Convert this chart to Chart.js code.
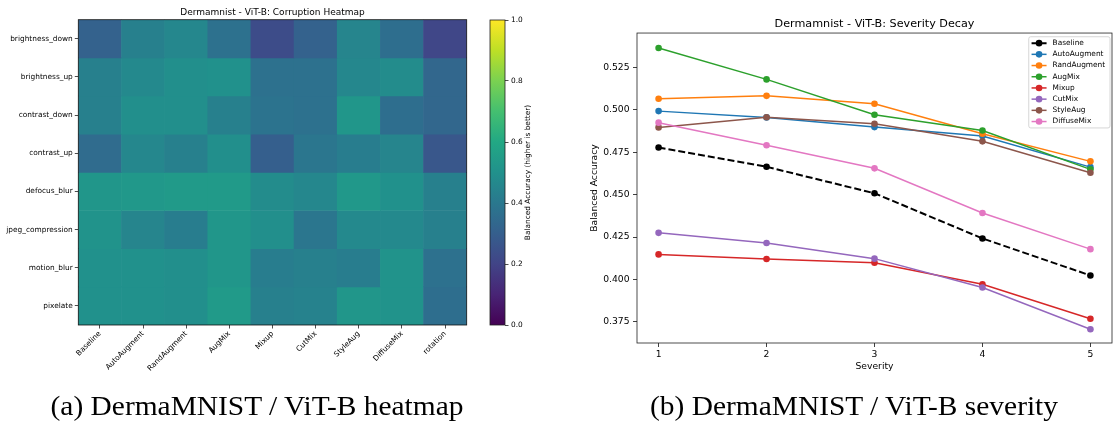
<!DOCTYPE html>
<html><head><meta charset="utf-8">
<script src="https://cdn.jsdelivr.net/npm/chart.js@4/dist/chart.umd.min.js"></script>
<style>
html,body{margin:0;padding:0;background:#fff;width:1116px;height:426px;overflow:hidden;position:relative}
canvas{position:absolute;top:0}
.cap{position:absolute;font-family:'Liberation Serif',serif;font-size:27px;line-height:1;white-space:nowrap;transform:translateX(-50%) scaleX(1.09);color:#000}
</style></head><body>
<canvas id="heat" width="480" height="426" style="left:0"></canvas>
<canvas id="cbar" width="80" height="426" style="left:470px"></canvas>
<canvas id="line" width="533" height="426" style="left:583px"></canvas>
<div class="cap" style="left:257px;top:393px">(a) DermaMNIST / ViT-B heatmap</div>
<div class="cap" style="left:854px;top:393px">(b) DermaMNIST / ViT-B severity</div>
<script>
// ---------- heatmap data ----------
const heatRows = ['brightness_down','brightness_up','contrast_down','contrast_up','defocus_blur','jpeg_compression','motion_blur','pixelate'];
const heatCols = ['Baseline','AutoAugment','RandAugment','AugMix','Mixup','CutMix','StyleAug','DiffuseMix','rotation'];
const rowBrightnessDown = [0.31, 0.43, 0.46, 0.37, 0.23, 0.31, 0.45, 0.36, 0.21];
const rowBrightnessUp   = [0.43, 0.47, 0.49, 0.50, 0.37, 0.37, 0.46, 0.48, 0.33];
const rowContrastDown   = [0.43, 0.49, 0.49, 0.43, 0.38, 0.37, 0.52, 0.36, 0.33];
const rowContrastUp     = [0.35, 0.46, 0.43, 0.49, 0.30, 0.39, 0.42, 0.45, 0.27];
const rowDefocusBlur    = [0.52, 0.53, 0.54, 0.54, 0.48, 0.46, 0.53, 0.50, 0.43];
const rowJpeg           = [0.51, 0.45, 0.42, 0.52, 0.49, 0.39, 0.47, 0.47, 0.43];
const rowMotionBlur     = [0.50, 0.50, 0.49, 0.52, 0.42, 0.43, 0.42, 0.51, 0.37];
const rowPixelate       = [0.50, 0.50, 0.49, 0.54, 0.43, 0.44, 0.52, 0.51, 0.36];
const heatValues = [rowBrightnessDown,rowBrightnessUp,rowContrastDown,rowContrastUp,rowDefocusBlur,rowJpeg,rowMotionBlur,rowPixelate];
const cbarTicks = [0, 0.2, 0.4, 0.6, 0.8, 1.0];

// ---------- severity data ----------
const severities = [1, 2, 3, 4, 5];
const sevBaseline    = [0.4778, 0.4664, 0.4508, 0.4242, 0.4024];
const sevAutoAugment = [0.4992, 0.4955, 0.4898, 0.4845, 0.4662];
const sevRandAugment = [0.5065, 0.5082, 0.5035, 0.4859, 0.4696];
const sevAugMix      = [0.5364, 0.5179, 0.4971, 0.4878, 0.4649];
const sevMixup       = [0.4148, 0.4121, 0.4099, 0.3972, 0.3769];
const sevCutMix      = [0.4275, 0.4215, 0.4123, 0.3953, 0.3707];
const sevStyleAug    = [0.4896, 0.4956, 0.4918, 0.4814, 0.4629];
const sevDiffuseMix  = [0.4924, 0.4791, 0.4655, 0.4392, 0.4179];
const seriesNames  = ['Baseline','AutoAugment','RandAugment','AugMix','Mixup','CutMix','StyleAug','DiffuseMix'];
const seriesValues = [sevBaseline,sevAutoAugment,sevRandAugment,sevAugMix,sevMixup,sevCutMix,sevStyleAug,sevDiffuseMix];
const seriesColors = ['#000000','#1f77b4','#ff7f0e','#2ca02c','#d62728','#9467bd','#8c564b','#e377c2'];
const yTicks = [0.375, 0.400, 0.425, 0.450, 0.475, 0.500, 0.525];

// ---------- helpers ----------
const viridisStops = ['#440154','#482475','#414487','#355f8d','#2a788e','#21918c','#22a884','#44bf70','#7ad151','#bddf26','#fde725'];
const hexRgb = h => [1,3,5].map(k => parseInt(h.substr(k,2),16));
function viridis(t){
  t = Math.max(0, Math.min(1, t));
  const p = t * 10, i = Math.min(9, Math.floor(p)), f = p - i;
  const a = hexRgb(viridisStops[i]), b = hexRgb(viridisStops[i+1]);
  return 'rgb(' + a.map((v,k) => Math.round(v + (b[k]-v)*f)).join(',') + ')';
}
Chart.defaults.font.family = "'DejaVu Sans', sans-serif";
Chart.defaults.color = '#000';

const framePlugin = {
  id: 'frame',
  afterDraw(chart, args, opts){
    const {ctx, chartArea: ca} = chart;
    ctx.save();
    ctx.strokeStyle = opts.color || '#000';
    ctx.lineWidth = opts.width || 0.8;
    ctx.strokeRect(ca.left, ca.top, ca.right - ca.left, ca.bottom - ca.top);
    ctx.restore();
  }
};

// ---------- heatmap ----------
new Chart(document.getElementById('heat'), {
  type: 'bar',
  data: {
    labels: heatCols,
    datasets: heatRows.map((r, i) => ({
      label: r,
      data: heatCols.map(() => 1),
      backgroundColor: heatValues[i].map(viridis),
      borderWidth: 0, barPercentage: 1, categoryPercentage: 1
    }))
  },
  options: {
    responsive: false, animation: false, events: [],
    layout: {padding: {left: 0, right: 13.3, top: 0, bottom: 0}},
    plugins: {
      legend: {display: false}, tooltip: {enabled: false},
      title: {display: true, text: 'Dermamnist - ViT-B: Corruption Heatmap', fullSize: false,
              font: {size: 9, weight: 'normal'}, color: '#000', padding: {top: 7, bottom: 1.9}},
      frame: {color: '#111', width: 0.8}
    },
    scales: {
      x: {
        stacked: true,
        grid: {display: true, drawOnChartArea: false, offset: false, tickLength: 3.5, color: '#000', lineWidth: 0.7},
        border: {display: false},
        ticks: {minRotation: 45, maxRotation: 45, autoSkip: false, font: {size: 7.4}, color: '#000', padding: 1},
        afterFit: s => { s.height = 101; }
      },
      y: {
        stacked: true, reverse: true, min: 0, max: heatRows.length,
        grid: {display: true, drawOnChartArea: false, tickLength: 3.5, color: '#000', lineWidth: 0.7},
        border: {display: false},
        ticks: {font: {size: 7.4}, color: '#000', padding: 2, callback: (v, i) => heatRows[i]},
        afterBuildTicks: s => { s.ticks = heatRows.map((_, i) => ({value: i + 0.5})); },
        afterFit: s => { s.width = 78.3; }
      }
    }
  },
  plugins: [framePlugin]
});

// ---------- colorbar ----------
const cbarLabelPlugin = {
  id: 'cbarLabel',
  afterDraw(chart){
    const {ctx, chartArea: ca} = chart;
    ctx.save();
    ctx.translate(ca.right + 23, (ca.top + ca.bottom) / 2);
    ctx.rotate(-Math.PI / 2);
    ctx.font = "7.4px 'DejaVu Sans'";
    ctx.fillStyle = '#000';
    ctx.textAlign = 'center';
    ctx.textBaseline = 'middle';
    ctx.fillText('Balanced Accuracy (higher is better)', 0, 0);
    ctx.restore();
  }
};
new Chart(document.getElementById('cbar'), {
  type: 'bar',
  data: {
    labels: [''],
    datasets: [{
      data: [[cbarTicks[0], cbarTicks[cbarTicks.length - 1]]],
      barPercentage: 1, categoryPercentage: 1, borderWidth: 0,
      backgroundColor: (c) => {
        const ca = c.chart.chartArea;
        if (!ca) return '#21918c';
        const g = c.chart.ctx.createLinearGradient(0, ca.bottom, 0, ca.top);
        viridisStops.forEach((col, i) => g.addColorStop(i / (viridisStops.length - 1), col));
        return g;
      }
    }]
  },
  options: {
    responsive: false, animation: false, events: [],
    layout: {padding: {left: 20, right: 0, top: 20, bottom: 101}},
    plugins: {legend: {display: false}, tooltip: {enabled: false}, frame: {color: '#222', width: 0.8}},
    scales: {
      x: {display: false},
      y: {
        position: 'right', min: 0, max: 1,
        grid: {display: true, drawOnChartArea: false, tickLength: 3.5, color: '#000', lineWidth: 0.7},
        border: {display: false},
        ticks: {font: {size: 7.4}, color: '#000', padding: 2.5, callback: v => v.toFixed(1)},
        afterBuildTicks: s => { s.ticks = cbarTicks.map(v => ({value: v})); },
        afterFit: s => { s.width = 45; }
      }
    }
  },
  plugins: [framePlugin, cbarLabelPlugin]
});

// ---------- severity line chart ----------
const innerLegend = {
  id: 'innerLegend',
  afterDatasetsDraw(chart){
    const {ctx, chartArea: ca} = chart;
    const ds = chart.data.datasets;
    ctx.save();
    ctx.font = "7.4px 'DejaVu Sans'";
    const tw = Math.max(...ds.map(d => ctx.measureText(d.label).width));
    const pad = 2.8, hl = 15, gap = 6, rowH = 11.2, top0 = 6.4;
    const w = pad + hl + gap + tw + pad + 2;
    const h = top0 * 2 + (ds.length - 1) * rowH;
    const x0 = ca.right - 2 - w, y0 = ca.top + 3.7;
    ctx.fillStyle = 'rgba(255,255,255,0.8)';
    ctx.strokeStyle = '#cccccc';
    ctx.lineWidth = 0.8;
    ctx.beginPath();
    ctx.roundRect(x0, y0, w, h, 2);
    ctx.fill(); ctx.stroke();
    ds.forEach((d, i) => {
      const cy = y0 + top0 + i * rowH;
      ctx.strokeStyle = d.borderColor;
      ctx.lineWidth = d.borderWidth;
      ctx.setLineDash(d.borderDash || []);
      ctx.beginPath(); ctx.moveTo(x0 + pad, cy); ctx.lineTo(x0 + pad + hl, cy); ctx.stroke();
      ctx.setLineDash([]);
      ctx.fillStyle = d.pointBackgroundColor;
      ctx.beginPath(); ctx.arc(x0 + pad + hl / 2, cy, d.pointRadius, 0, Math.PI * 2); ctx.fill();
      ctx.fillStyle = '#000';
      ctx.textAlign = 'left'; ctx.textBaseline = 'middle';
      ctx.fillText(d.label, x0 + pad + hl + gap, cy);
    });
    ctx.restore();
  }
};
new Chart(document.getElementById('line'), {
  type: 'line',
  data: {
    datasets: seriesNames.map((n, i) => ({
      label: n,
      data: severities.map((s, j) => ({x: s, y: seriesValues[i][j]})),
      borderColor: seriesColors[i], backgroundColor: seriesColors[i],
      pointBackgroundColor: seriesColors[i], pointBorderColor: seriesColors[i],
      pointBorderWidth: 0, pointRadius: 3.3,
      borderWidth: i === 0 ? 2 : 1.5,
      borderDash: i === 0 ? [7, 3] : [],
      tension: 0, fill: false,
      order: seriesNames.length - i
    }))
  },
  options: {
    responsive: false, animation: false, events: [],
    layout: {padding: {left: 0, right: 1, top: 0, bottom: 53.5}},
    plugins: {
      legend: {display: false}, tooltip: {enabled: false},
      title: {display: true, text: 'Dermamnist - ViT-B: Severity Decay', fullSize: false,
              font: {size: 11.2, weight: 'normal'}, color: '#000', padding: {top: 17.3, bottom: 2.3}},
      frame: {color: '#222', width: 0.8}
    },
    scales: {
      x: {
        type: 'linear', min: 0.8, max: 5.2,
        grid: {display: true, drawOnChartArea: false, tickLength: 4, color: '#000', lineWidth: 0.75},
        border: {display: false},
        ticks: {font: {size: 9.2}, color: '#000', padding: 2, callback: v => String(v)},
        afterBuildTicks: s => { s.ticks = severities.map(v => ({value: v})); },
        title: {display: true, text: 'Severity', font: {size: 9.2}, color: '#000', padding: {top: 0, bottom: 0}},
        afterFit: s => { s.height = 29.5; }
      },
      y: {
        type: 'linear', min: 0.3626, max: 0.5452,
        grid: {display: true, drawOnChartArea: false, tickLength: 4, color: '#000', lineWidth: 0.75},
        border: {display: false},
        ticks: {font: {size: 9.2}, color: '#000', padding: 3.5, callback: v => v.toFixed(3)},
        afterBuildTicks: s => { s.ticks = yTicks.map(v => ({value: v})); },
        title: {display: true, text: 'Balanced Accuracy', font: {size: 9.2}, color: '#000', padding: {top: 6, bottom: 0}},
        afterFit: s => { s.width = 54; }
      }
    }
  },
  plugins: [framePlugin, innerLegend]
});
</script>
</body></html>
